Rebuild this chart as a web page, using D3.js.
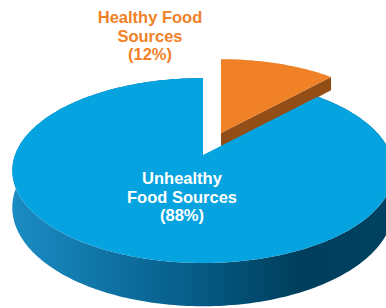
<!DOCTYPE html>
<html>
<head>
<meta charset="utf-8">
<script src="https://cdn.jsdelivr.net/npm/d3@7"></script>
<style>
  html, body { margin: 0; padding: 0; background: #fff; }
  svg { display: block; font-family: "Liberation Sans", Arial, sans-serif; font-weight: bold; }
</style>
</head>
<body>
<div id="chart"></div>
<script>
const categories = ["Healthy Food Sources", "Unhealthy Food Sources"];
const values = [12, 88];
const labelLines = [["Healthy Food", "Sources", "(12%)"], ["Unhealthy", "Food Sources", "(88%)"]];

const width = 386;
const height = 308;

// pseudo 3d projection of the pie disc
const R = 188, tilt = 0.478, dist = 5.96;
const slices = [
  { ax: 221, ay: 133, s: 0.96, depth: 15, top: "#f08127", side: "#934d17", exploded: true },
  { ax: 203, ay: 155, s: 1, depth: 36, top: "#05a3df", side: "url(#sideGrad)", exploded: false }
];

function project(sl, a, r, down) {
  const u = Math.sin(a) * r, v = -Math.cos(a) * r;
  const k = dist / (dist - v);
  return [sl.ax + R * sl.s * u * k, sl.ay + R * sl.s * tilt * v * k + (down ? sl.depth * k : 0)];
}

const svg = d3.select("#chart").append("svg")
  .attr("width", width)
  .attr("height", height);

const grad = svg.append("defs").append("linearGradient")
  .attr("id", "sideGrad")
  .attr("gradientUnits", "userSpaceOnUse")
  .attr("x1", 12).attr("x2", 394).attr("y1", 0).attr("y2", 0);
[[0, "#1a8cc4"], [0.45, "#075f8b"], [0.75, "#003e5c"], [1, "#014262"]].forEach(s => {
  grad.append("stop").attr("offset", s[0]).attr("stop-color", s[1]);
});

const pie = d3.pie().sort(null).startAngle(0).endAngle(2 * Math.PI);
const arcs = pie(values);
const line = d3.line();

function rim(sl, a0, a1, down) {
  const n = Math.max(8, Math.ceil((a1 - a0) / 0.02));
  return d3.range(n + 1).map(i => project(sl, a0 + (a1 - a0) * i / n, 1, down));
}

// draw orange (behind) first, then blue
[0, 1].forEach(i => {
  const a = arcs[i], sl = slices[i];
  const g = svg.append("g");

  if (sl.exploded) {
    // radial face at end angle, visible toward the viewer
    const pts = [project(sl, a.endAngle, 0, false), project(sl, a.endAngle, 1, false),
                 project(sl, a.endAngle, 1, true), project(sl, a.endAngle, 0, true)];
    g.append("path").attr("d", line(pts) + "Z").attr("fill", sl.side);
  } else {
    const topRim = rim(sl, a.startAngle, a.endAngle, false);
    const botRim = rim(sl, a.startAngle, a.endAngle, true).reverse();
    g.append("path").attr("d", line(topRim.concat(botRim)) + "Z").attr("fill", sl.side);
  }

  const face = [project(sl, 0, 0, false)].concat(rim(sl, a.startAngle, a.endAngle, false));
  g.append("path").attr("d", line(face) + "Z").attr("fill", sl.top);
});

// labels
const labelPos = [{ x: 150, y: 23, fill: "#f08127" }, { x: 182, y: 184, fill: "#ffffff" }];
labelLines.forEach((lines, i) => {
  svg.append("text")
    .attr("text-anchor", "middle")
    .attr("font-size", "16.5px")
    .attr("fill", labelPos[i].fill)
    .attr("aria-label", categories[i])
    .selectAll("tspan")
    .data(lines)
    .join("tspan")
    .attr("x", labelPos[i].x)
    .attr("y", (d, j) => labelPos[i].y + j * 18.5)
    .text(d => d);
});
</script>
</body>
</html>
